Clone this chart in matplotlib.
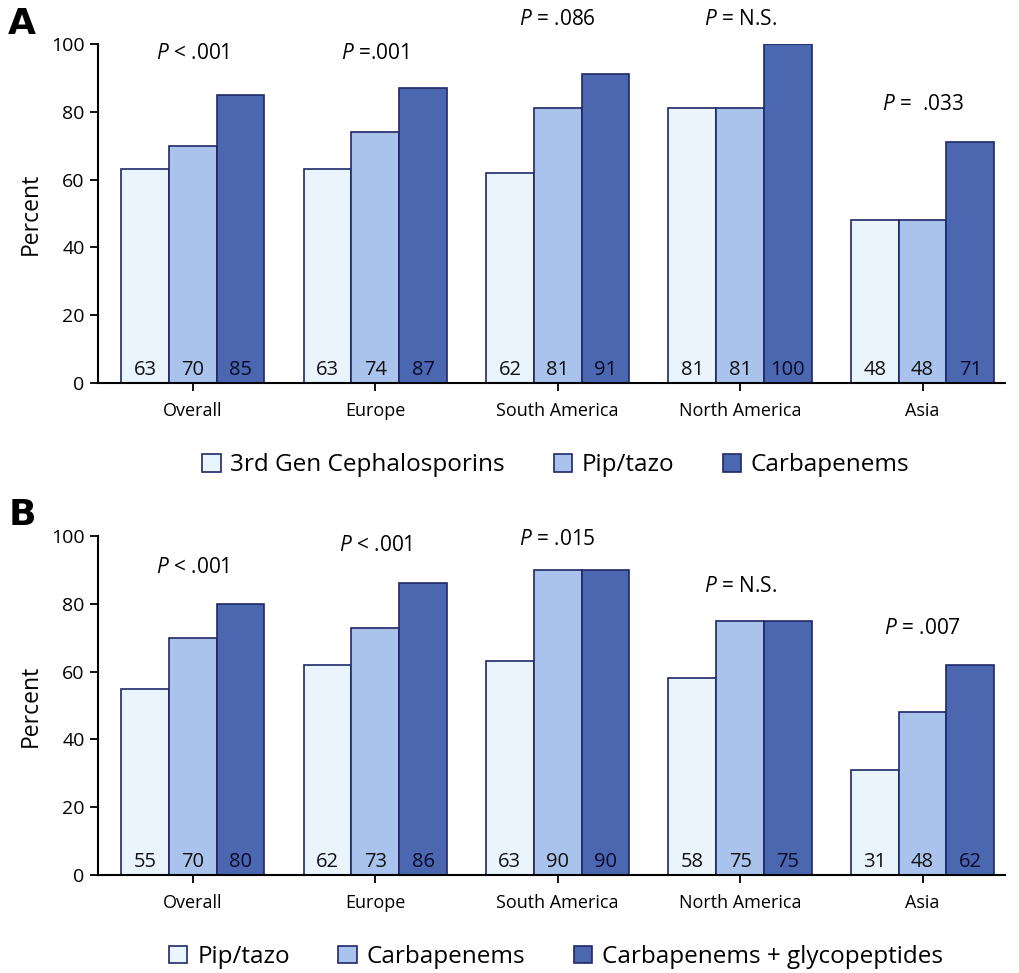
import matplotlib.pyplot as plt
import numpy as np

plt.rcParams['font.family'] = ['Open Sans', 'DejaVu Sans']
plt.rcParams['mathtext.fontset'] = 'custom'
plt.rcParams['mathtext.it'] = 'Open Sans:italic'
plt.rcParams['mathtext.rm'] = 'Open Sans'

regions = ['Overall', 'Europe', 'South America', 'North America', 'Asia']

# panel A
a_labels = ['3rd Gen Cephalosporins', 'Pip/tazo', 'Carbapenems']
a_vals = [[63, 63, 62, 81, 48],
          [70, 74, 81, 81, 48],
          [85, 87, 91, 100, 71]]
a_ptext = ['< .001', '=.001', '= .086', '= N.S.', '=  .033']
a_py = [94, 94, 104, 104, 79]

# panel B
b_labels = ['Pip/tazo', 'Carbapenems', 'Carbapenems + glycopeptides']
b_vals = [[55, 62, 63, 58, 31],
          [70, 73, 90, 75, 48],
          [80, 86, 90, 75, 62]]
b_ptext = ['< .001', '< .001', '= .015', '= N.S.', '= .007']
b_py = [87.5, 94, 96, 82, 69.5]

colors = ['#EAF4FD', '#A9C3EC', '#4A67B0']
edge = '#1F2868'
txtcol = ['#111111', '#111111', '#0a0a2a']

fig = plt.figure(figsize=(10.2, 9.73), dpi=100)
axA = fig.add_axes([0.096, 0.6064, 0.889, 0.3484])
axB = fig.add_axes([0.096, 0.1007, 0.889, 0.3484])

w = 0.262
x = np.arange(len(regions))

def panel(ax, vals, labels, ptext, py, legy):
    handles = []
    for i, v in enumerate(vals):
        xs = x + (i - 1) * w
        b = ax.bar(xs, v, w, color=colors[i], edgecolor=edge, linewidth=1.2,
                   label=labels[i], zorder=2)
        handles.append(b)
        for xi, vi in zip(xs, v):
            ax.text(xi, 2.3, str(vi), ha='center', va='baseline', fontsize=14.5,
                    color=txtcol[i])
    for xi, t, yy in zip(x, ptext, py):
        ax.text(xi, yy, r'$P$ ' + t, ha='center', va='bottom', fontsize=15)
    ax.set_ylim(0, 100)
    ax.set_xlim(-0.52, 4.45)
    ax.set_yticks(range(0, 101, 20))
    ax.set_xticks(x)
    ax.set_xticklabels(regions, fontsize=13)
    ax.tick_params(axis='y', labelsize=14, length=6, width=1.3)
    ax.tick_params(axis='x', length=6, width=1.3, pad=8)
    ax.spines['top'].set_visible(False)
    ax.spines['right'].set_visible(False)
    ax.spines['left'].set_linewidth(1.5)
    ax.spines['bottom'].set_linewidth(1.5)
    ax.set_ylabel('Percent', fontsize=16.5, labelpad=6)
    fig.legend(handles=handles, loc='center', bbox_to_anchor=(0.545, legy),
               ncol=3, frameon=False, fontsize=17.5, handlelength=0.75,
               handleheight=0.75, handletextpad=0.4, columnspacing=2.0)

panel(axA, a_vals, a_labels, a_ptext, a_py, 0.522)
panel(axB, b_vals, b_labels, b_ptext, b_py, 0.0165)

fig.text(0.008, 0.975, 'A', fontsize=26, fontweight='bold', va='center', family='DejaVu Sans')
fig.text(0.008, 0.471, 'B', fontsize=26, fontweight='bold', va='center', family='DejaVu Sans')

fig.savefig('out.png', dpi=100)
